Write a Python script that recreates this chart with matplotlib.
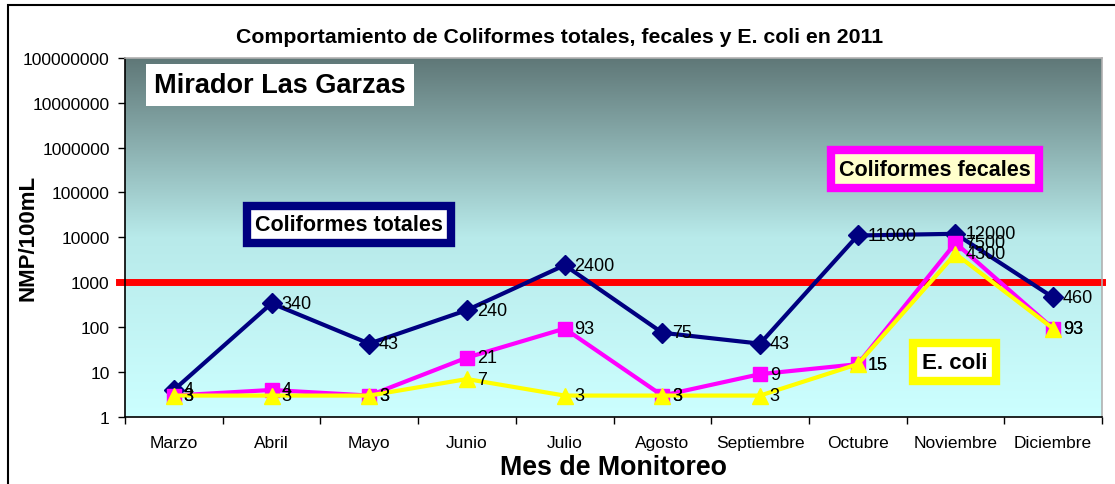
import matplotlib
matplotlib.use("Agg")
import matplotlib.pyplot as plt
import numpy as np
from matplotlib.colors import LinearSegmentedColormap
from matplotlib.patches import Rectangle

plt.rcParams['font.family'] = ['Liberation Sans', 'DejaVu Sans']

meses = ['Marzo', 'Abril', 'Mayo', 'Junio', 'Julio', 'Agosto',
         'Septiembre', 'Octubre', 'Noviembre', 'Diciembre']
totales = [4, 340, 43, 240, 2400, 75, 43, 11000, 12000, 460]
fecales = [3, 4, 3, 21, 93, 3, 9, 15, 7500, 93]
e_coli = [3, 3, 3, 7, 3, 3, 3, 15, 4300, 93]
limite = 1000
y_ticks = [1, 10, 100, 1000, 10000, 100000, 1000000, 10000000, 100000000]

fig = plt.figure(figsize=(11.15, 4.85), dpi=100)
ax = fig.add_axes([125 / 1115, 1 - 418 / 485, 977 / 1115, 359.3 / 485])

# fondo degradado
fondo = LinearSegmentedColormap.from_list('fondo', ['#ccffff', '#b8eaea', '#5f7777'])
grad = np.linspace(0, 1, 256).reshape(-1, 1)
ax.imshow(grad, cmap=fondo, aspect='auto', extent=[0, 1, 0, 1],
          transform=ax.transAxes, origin='lower', zorder=0)

x = np.arange(len(meses))
series = [
    (totales, '#000080', 'D', 10),
    (fecales, '#ff00ff', 's', 10.5),
    (e_coli, '#ffff00', '^', 12),
]
for vals, color, marker, ms in series:
    ax.plot(x, vals, color=color, lw=3, marker=marker, ms=ms, zorder=3)
    for xi, v in zip(x, vals):
        ax.annotate(str(v), (xi, v), xytext=(7, 0), textcoords='offset points',
                    va='center', ha='left', fontsize=13, color='black', zorder=4)

ax.axhline(limite, xmin=-0.006, xmax=1.0, color='#ff0000', lw=5, zorder=2, clip_on=False)

ax.set_yscale('log')
ax.set_ylim(1, 1e8)
ax.set_yticks(y_ticks)
ax.set_yticklabels([str(t) for t in y_ticks])
ax.minorticks_off()
ax.set_xlim(-0.5, len(meses) - 0.5)
ax.set_xticks(x)
ax.set_xticklabels(meses)
ax.set_xticks(np.arange(-0.5, len(meses)), minor=True)
ax.tick_params(axis='x', which='major', length=0, pad=13, labelsize=12.5)
ax.tick_params(axis='x', which='minor', length=5, direction='out', width=1)
ax.tick_params(axis='y', which='major', length=5, direction='out', width=1,
               pad=6, labelsize=12.5)

for s in ['top', 'right']:
    ax.spines[s].set_color('#b0b0b0')
    ax.spines[s].set_linewidth(1.2)
for s in ['left', 'bottom']:
    ax.spines[s].set_color('black')
    ax.spines[s].set_linewidth(1.2)

fig.text(560 / 1115, 1 - 38 / 485, 'Comportamiento de Coliformes totales, fecales y E. coli en 2011',
         ha='center', va='center', fontsize=15.3, fontweight='bold')
fig.text(613 / 1115, 1 - 468 / 485, 'Mes de Monitoreo', ha='center', va='center',
         fontsize=19.3, fontweight='bold')
fig.text(28 / 1115, 1 - 238 / 485, 'NMP/100mL', ha='center', va='center',
         rotation=90, fontsize=16, fontweight='bold')

# recuadros de texto
ax.text(0.03, 0.925, 'Mirador Las Garzas', transform=ax.transAxes, fontsize=19.5,
        fontweight='bold', va='center', ha='left',
        bbox=dict(boxstyle='square,pad=0.3', fc='white', ec='none'), zorder=5)
ax.text(0.229, 0.536, 'Coliformes totales', transform=ax.transAxes, fontsize=15.5,
        fontweight='bold', va='center', ha='center',
        bbox=dict(boxstyle='square,pad=0.38', fc='white', ec='#000080', lw=6), zorder=5)
ax.text(0.829, 0.69, 'Coliformes fecales', transform=ax.transAxes, fontsize=15.5,
        fontweight='bold', va='center', ha='center',
        bbox=dict(boxstyle='square,pad=0.38', fc='#ffffcc', ec='#ff00ff', lw=6), zorder=5)
ax.text(0.849, 0.152, 'E. coli', transform=ax.transAxes, fontsize=16,
        fontweight='bold', va='center', ha='center',
        bbox=dict(boxstyle='square,pad=0.38', fc='white', ec='#ffff00', lw=6), zorder=5)

# marco de la figura
fig.add_artist(Rectangle((8 / 1115, -0.1), 1.2, 1.1 - 6 / 485, transform=fig.transFigure,
                         fill=False, ec='black', lw=1.5))

fig.savefig('out.png', dpi=100)
